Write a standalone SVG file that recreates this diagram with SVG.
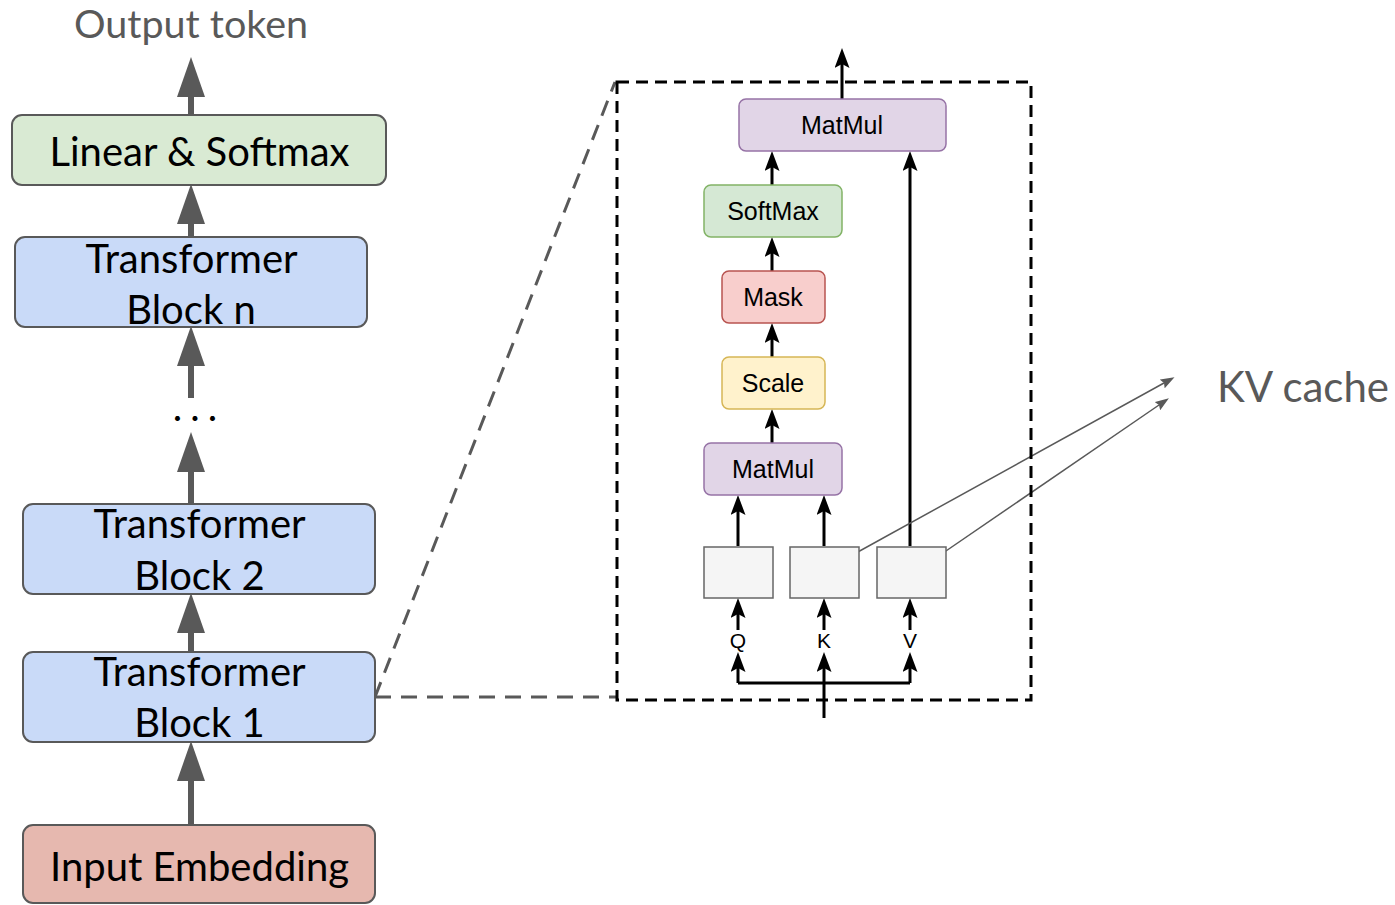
<svg xmlns="http://www.w3.org/2000/svg" width="1395" height="905" viewBox="0 0 1395 905">
<defs>
<style>
.big{font-family:Lato,"Open Sans",sans-serif;font-size:40px;fill:#000;text-anchor:middle}
.gray{fill:#595959}
.sm{font-family:"Liberation Sans",Arial,sans-serif;font-size:25px;fill:#000;text-anchor:middle}
.qkv{font-family:"Liberation Sans",Arial,sans-serif;font-size:21px;fill:#000;text-anchor:middle}
.lbox{stroke:#595959;stroke-width:2}
.garrow{stroke:#595959;stroke-width:6;fill:none;marker-end:url(#gh)}
.barrow{stroke:#000;stroke-width:3;fill:none;marker-end:url(#bh)}
.bline{stroke:#000;stroke-width:3;fill:none}
.kv{stroke:#595959;stroke-width:1.5;fill:none;marker-end:url(#kh)}
.gdash{stroke:#595959;stroke-width:3;fill:none;stroke-dasharray:16 10}
</style>
<marker id="gh" viewBox="0 0 40 28" refX="0" refY="14" markerWidth="40" markerHeight="28" markerUnits="userSpaceOnUse" orient="auto"><path d="M0,0 L40,14 L0,28 Z" fill="#595959"/></marker>
<marker id="bh" viewBox="0 0 20 15" refX="4" refY="7.5" markerWidth="20" markerHeight="15" markerUnits="userSpaceOnUse" orient="auto"><path d="M0,0 L20,7.5 L0,15 L4,7.5 Z" fill="#000"/></marker>
<marker id="kh" viewBox="0 0 14 10" refX="2" refY="5" markerWidth="14" markerHeight="10" markerUnits="userSpaceOnUse" orient="auto"><path d="M0,0 L14,5 L0,10 L2,5 Z" fill="#595959"/></marker>
</defs>
<rect width="1395" height="905" fill="#fff"/>

<text x="191" y="38" class="big gray" style="font-size:39.5px">Output token</text>

<g id="connectors">
<path class="garrow" d="M191,115 L191,97"/>
<path class="garrow" d="M191,237 L191,224"/>
<path class="garrow" d="M191,398 L191,366"/>
<path class="garrow" d="M191,504 L191,472"/>
<path class="garrow" d="M191,652 L191,633"/>
<path class="garrow" d="M191,825 L191,781"/>
<path class="gdash" d="M375,697 L615,82"/>
<path class="gdash" d="M375,697 L617,697"/>
<path class="barrow" d="M842,99 L842,64"/>
<path class="barrow" d="M772,185 L772,167"/>
<path class="barrow" d="M772,271 L772,253"/>
<path class="barrow" d="M772,357 L772,339"/>
<path class="barrow" d="M772,443 L772,425"/>
<path class="barrow" d="M738,546 L738,511"/>
<path class="barrow" d="M824,546 L824,511"/>
<path class="barrow" d="M910,546 L910,167"/>
<path class="barrow" d="M738,630 L738,614"/>
<path class="barrow" d="M824,630 L824,614"/>
<path class="barrow" d="M910,630 L910,614"/>
<path class="bline" d="M738,683 L910,683"/>
<path class="barrow" d="M738,683 L738,668"/>
<path class="barrow" d="M910,683 L910,668"/>
<path class="barrow" d="M824,718 L824,668"/>
<path class="kv" d="M856,553 L1164,383"/>
<path class="kv" d="M943,553 L1159,405"/>
</g>

<g id="linear"><rect class="lbox" x="12" y="115" width="374" height="70" rx="10" fill="#d9ead3"/><text class="big" x="199.5" y="166">Linear &amp; Softmax</text></g>
<g id="blockn"><rect class="lbox" x="15" y="237" width="352" height="90" rx="10" fill="#c9daf8"/><text class="big" x="191.5" y="273">Transformer</text><text class="big" x="191" y="324">Block n</text></g>
<g id="dots"><text class="big" x="199" y="421" style="letter-spacing:8px">...</text></g>
<g id="block2"><rect class="lbox" x="23" y="504" width="352" height="90" rx="10" fill="#c9daf8"/><text class="big" x="199.5" y="538">Transformer</text><text class="big" x="199.5" y="590">Block 2</text></g>
<g id="block1"><rect class="lbox" x="23" y="652" width="352" height="90" rx="10" fill="#c9daf8"/><text class="big" x="199.5" y="686">Transformer</text><text class="big" x="199.5" y="737">Block 1</text></g>
<g id="input"><rect class="lbox" x="23" y="825" width="352" height="78" rx="10" fill="#e6b8af"/><text class="big" x="199.5" y="881">Input Embedding</text></g>

<g id="zoombox"><rect x="617" y="82" width="414" height="618" fill="none" stroke="#000" stroke-width="3" stroke-dasharray="12 7"/></g>

<g id="matmul2"><rect x="739" y="99" width="207" height="52" rx="7" fill="#e1d5e7" stroke="#9673a6" stroke-width="1.5"/><text class="sm" x="842" y="134">MatMul</text></g>
<g id="softmax"><rect x="704" y="185" width="138" height="52" rx="7" fill="#d5e8d4" stroke="#82b366" stroke-width="1.5"/><text class="sm" x="773" y="220">SoftMax</text></g>
<g id="mask"><rect x="722" y="271" width="103" height="52" rx="7" fill="#f8cecc" stroke="#b85450" stroke-width="1.5"/><text class="sm" x="773" y="306">Mask</text></g>
<g id="scale"><rect x="722" y="357" width="103" height="52" rx="7" fill="#fff2cc" stroke="#d6b656" stroke-width="1.5"/><text class="sm" x="773" y="392">Scale</text></g>
<g id="matmul1"><rect x="704" y="443" width="138" height="52" rx="7" fill="#e1d5e7" stroke="#9673a6" stroke-width="1.5"/><text class="sm" x="773" y="478">MatMul</text></g>
<g id="qbox"><rect x="704" y="547" width="69" height="51" fill="#f5f5f5" stroke="#666" stroke-width="1.5"/></g>
<g id="kbox"><rect x="790" y="547" width="69" height="51" fill="#f5f5f5" stroke="#666" stroke-width="1.5"/></g>
<g id="vbox"><rect x="877" y="547" width="69" height="51" fill="#f5f5f5" stroke="#666" stroke-width="1.5"/></g>
<g id="labels"><text class="qkv" x="738" y="648">Q</text><text class="qkv" x="824" y="648">K</text><text class="qkv" x="910" y="648">V</text></g>

<g id="kvcache"><text class="big gray" x="1303" y="402" style="font-size:42px">KV cache</text></g>
</svg>
